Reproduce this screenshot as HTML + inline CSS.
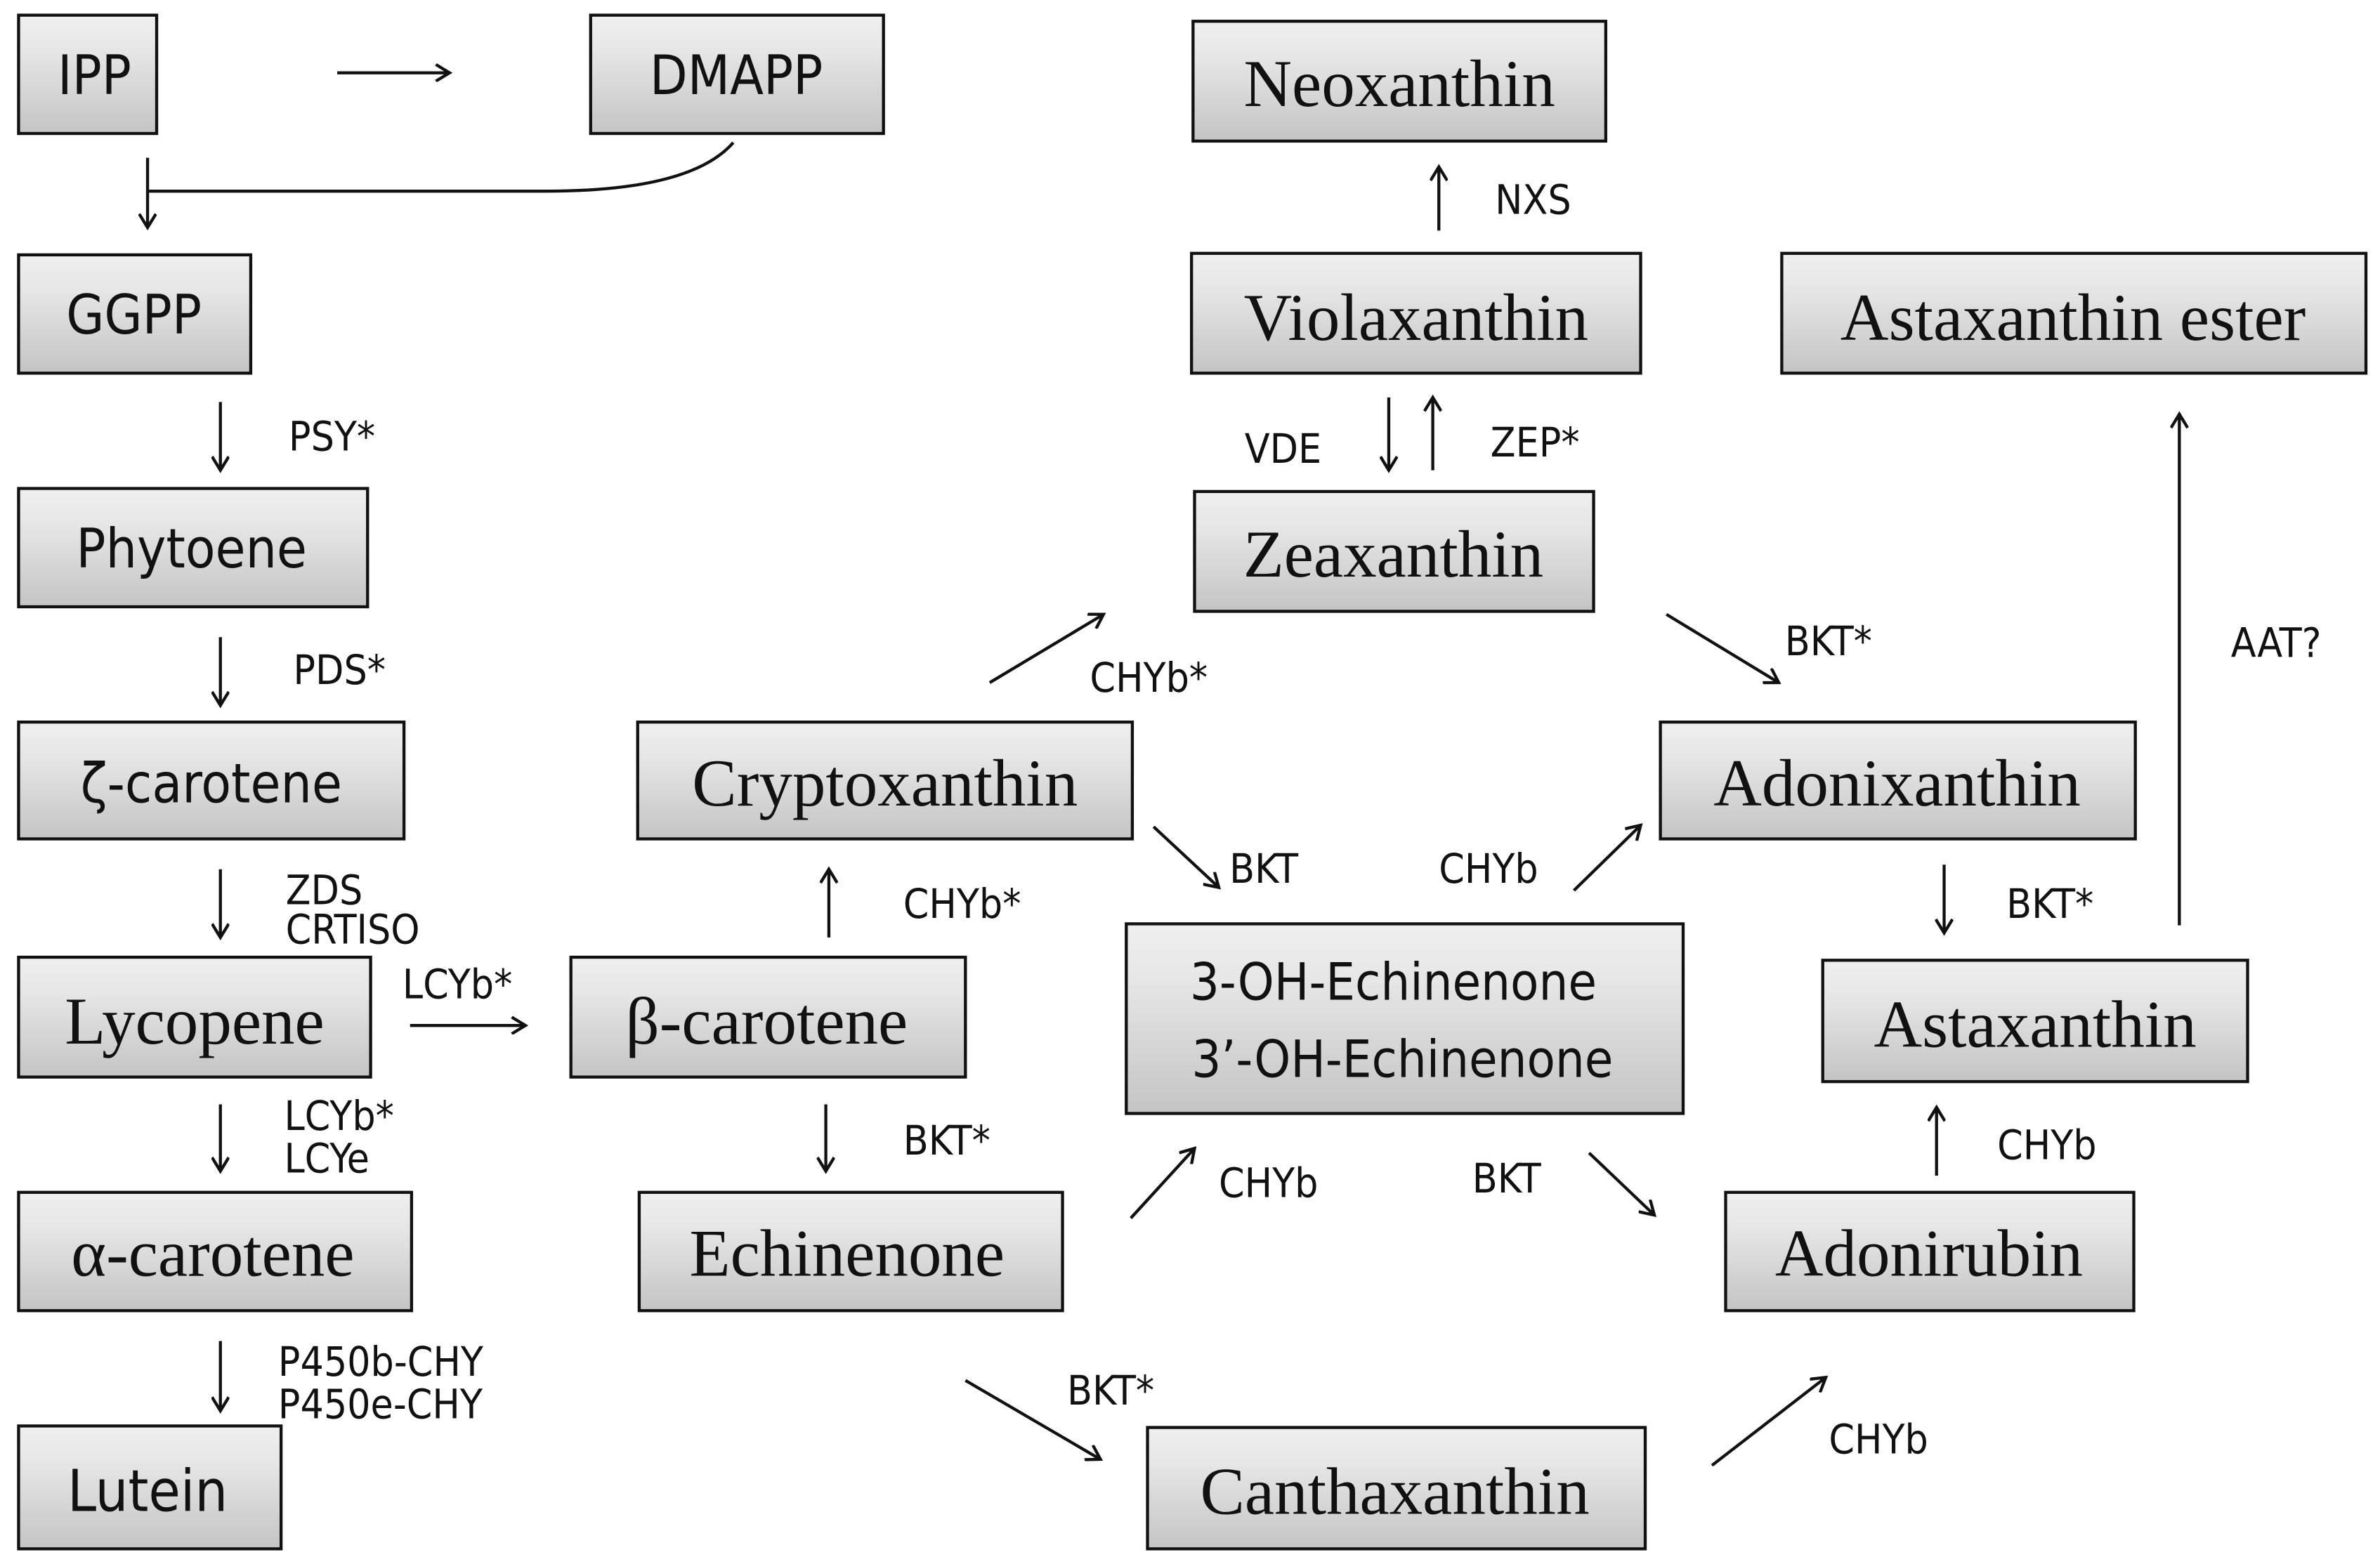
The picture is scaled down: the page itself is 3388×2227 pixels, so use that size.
<!DOCTYPE html>
<html><head><meta charset="utf-8"><style>
html,body{margin:0;padding:0;background:#fff;}
svg{display:block;}
.s{font-family:"DejaVu Sans Condensed","DejaVu Sans","Liberation Sans",sans-serif;}
.r{font-family:"Liberation Serif",serif;}
.l{font-family:"DejaVu Sans Condensed","DejaVu Sans","Liberation Sans",sans-serif;font-size:27px;fill:#111;}
</style></head><body>
<svg width="3388" height="2227" viewBox="0 0 1568 1031" xmlns="http://www.w3.org/2000/svg">
<defs>
<linearGradient id="g" x1="0" y1="0" x2="0" y2="1">
<stop offset="0" stop-color="#efefef"/><stop offset="0.3" stop-color="#e6e6e6"/><stop offset="1" stop-color="#c4c4c4"/>
</linearGradient>
<marker id="a" markerWidth="12" markerHeight="12" refX="10" refY="6" orient="auto" markerUnits="userSpaceOnUse">
<path d="M1,0.5 L10,6 L1,11.5" fill="none" stroke="#111" stroke-width="2"/>
</marker>
</defs>
<g stroke="#111" stroke-width="2" fill="url(#g)">
<rect x="12" y="10" width="91" height="78"/>
<rect x="389" y="10" width="193" height="78"/>
<rect x="786" y="14" width="272" height="79"/>
<rect x="12" y="168" width="153" height="78"/>
<rect x="785" y="167" width="296" height="79"/>
<rect x="1174" y="167" width="385" height="79"/>
<rect x="12" y="322" width="230" height="78"/>
<rect x="787" y="324" width="263" height="79"/>
<rect x="12" y="476" width="254" height="77"/>
<rect x="420" y="476" width="326" height="77"/>
<rect x="1094" y="476" width="313" height="77"/>
<rect x="742" y="609" width="367" height="125"/>
<rect x="12" y="631" width="232" height="79"/>
<rect x="376" y="631" width="260" height="79"/>
<rect x="1201" y="633" width="280" height="80"/>
<rect x="12" y="786" width="259" height="78"/>
<rect x="421" y="786" width="279" height="78"/>
<rect x="1137" y="786" width="269" height="78"/>
<rect x="12" y="940" width="173" height="81"/>
<rect x="756" y="941" width="328" height="80"/>
</g>
<g text-anchor="middle" fill="#111">
<text class="s" x="62" y="62" font-size="36">IPP</text>
<text class="s" x="485" y="62" font-size="36">DMAPP</text>
<text class="r" x="922" y="70" font-size="44">Neoxanthin</text>
<text class="s" x="88" y="220" font-size="36">GGPP</text>
<text class="r" x="933" y="224" font-size="44">Violaxanthin</text>
<text class="r" x="1366" y="224" font-size="44">Astaxanthin ester</text>
<text class="s" x="126" y="374" font-size="36">Phytoene</text>
<text class="r" x="918" y="380" font-size="44">Zeaxanthin</text>
<text class="s" x="139" y="529" font-size="36">ζ-carotene</text>
<text class="r" x="583" y="531" font-size="44">Cryptoxanthin</text>
<text class="r" x="1250" y="531" font-size="44">Adonixanthin</text>
<text class="s" x="918" y="659" font-size="34">3-OH-Echinenone</text>
<text class="s" x="924" y="710" font-size="34">3’-OH-Echinenone</text>
<text class="r" x="128" y="688" font-size="44">Lycopene</text>
<text class="r" x="505" y="688" font-size="44">β-carotene</text>
<text class="r" x="1341" y="690" font-size="44">Astaxanthin</text>
<text class="r" x="140" y="841" font-size="44">α-carotene</text>
<text class="r" x="558" y="841" font-size="44">Echinenone</text>
<text class="r" x="1271" y="841" font-size="44">Adonirubin</text>
<text class="s" x="97" y="996" font-size="38">Lutein</text>
<text class="r" x="919" y="998" font-size="44">Canthaxanthin</text>
</g>
<g stroke="#111" stroke-width="2" fill="none" marker-end="url(#a)">
<line x1="222" y1="48" x2="296" y2="48"/>
<path d="M483,94 Q455,126 360,126 L97,126" marker-end="none"/>
<line x1="97" y1="104" x2="97" y2="150"/>
<line x1="145" y1="265" x2="145" y2="310"/>
<line x1="145" y1="420" x2="145" y2="465"/>
<line x1="145" y1="573" x2="145" y2="618"/>
<line x1="270" y1="676" x2="346" y2="676"/>
<line x1="145" y1="728" x2="145" y2="772"/>
<line x1="145" y1="884" x2="145" y2="930"/>
<line x1="546" y1="618" x2="546" y2="573"/>
<line x1="544" y1="728" x2="544" y2="772"/>
<line x1="652" y1="450" x2="727" y2="405"/>
<line x1="760" y1="545" x2="803" y2="585"/>
<line x1="745" y1="803" x2="787" y2="757"/>
<line x1="636" y1="910" x2="725" y2="962"/>
<line x1="1037" y1="587" x2="1081" y2="544"/>
<line x1="1047" y1="760" x2="1090" y2="801"/>
<line x1="1098" y1="405" x2="1172" y2="450"/>
<line x1="915" y1="262" x2="915" y2="310"/>
<line x1="944" y1="310" x2="944" y2="262"/>
<line x1="948" y1="152" x2="948" y2="110"/>
<line x1="1281" y1="570" x2="1281" y2="615"/>
<line x1="1276" y1="775" x2="1276" y2="730"/>
<line x1="1128" y1="966" x2="1203" y2="908"/>
<line x1="1436" y1="610" x2="1436" y2="273"/>
</g>
<g class="l">
<text x="190" y="297">PSY*</text>
<text x="193" y="451">PDS*</text>
<text x="188" y="596">ZDS</text>
<text x="188" y="622">CRTISO</text>
<text x="265" y="658">LCYb*</text>
<text x="187" y="745">LCYb*</text>
<text x="187" y="773">LCYe</text>
<text x="183" y="907">P450b-CHY</text>
<text x="183" y="935">P450e-CHY</text>
<text x="595" y="605">CHYb*</text>
<text x="595" y="761">BKT*</text>
<text x="718" y="456">CHYb*</text>
<text x="810" y="582">BKT</text>
<text x="803" y="789">CHYb</text>
<text x="703" y="926">BKT*</text>
<text x="948" y="582">CHYb</text>
<text x="970" y="786">BKT</text>
<text x="1176" y="432">BKT*</text>
<text x="820" y="305">VDE</text>
<text x="982" y="301">ZEP*</text>
<text x="985" y="141">NXS</text>
<text x="1322" y="605">BKT*</text>
<text x="1316" y="764">CHYb</text>
<text x="1205" y="958">CHYb</text>
<text x="1470" y="433">AAT?</text>
</g>
</svg>
</body></html>
